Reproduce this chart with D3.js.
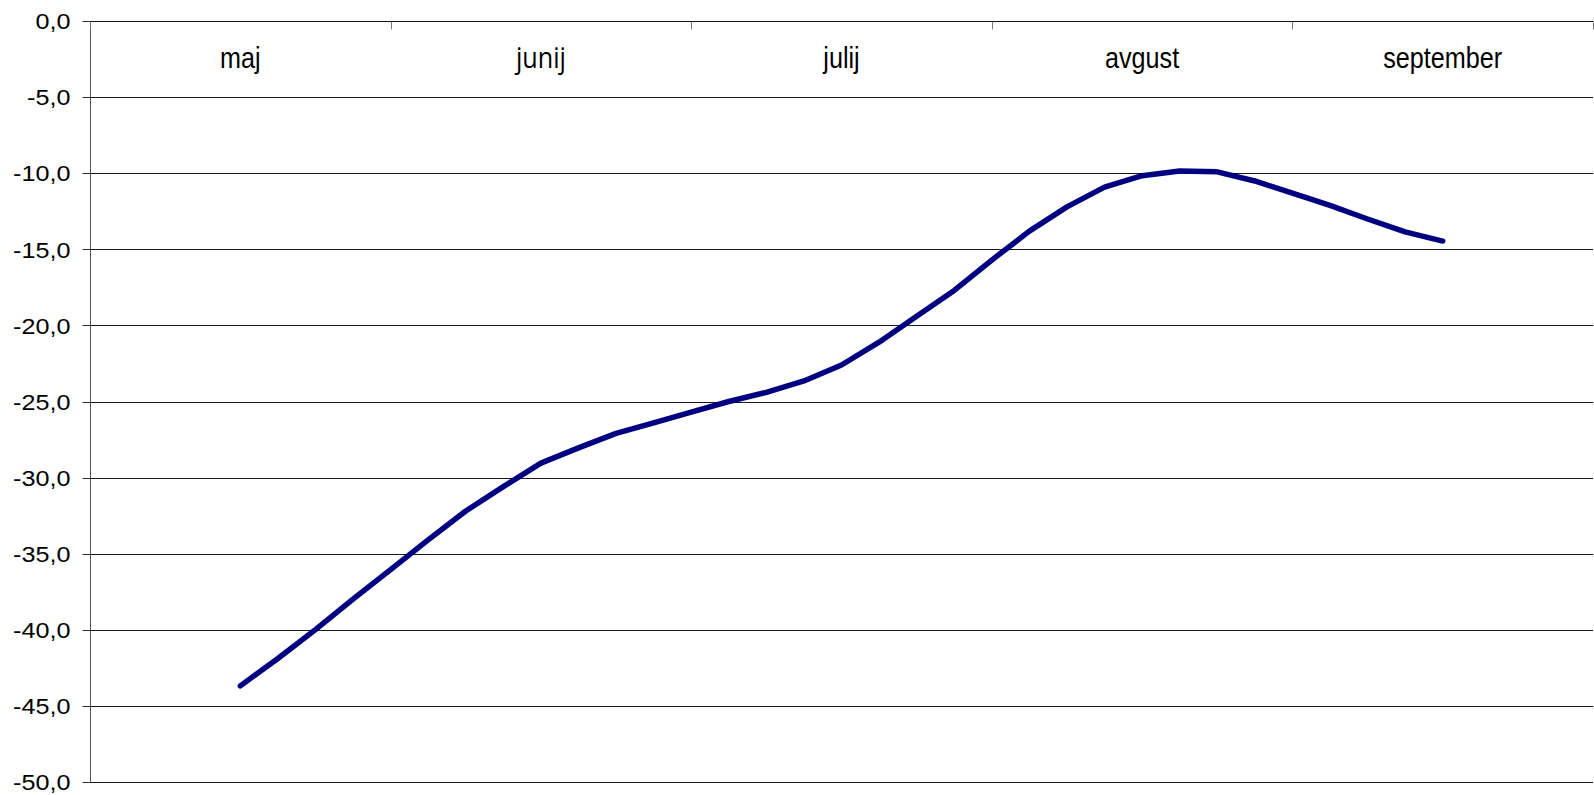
<!DOCTYPE html>
<html>
<head>
<meta charset="utf-8">
<script src="https://cdn.jsdelivr.net/npm/d3@7"></script>
<style>
  html, body { margin: 0; padding: 0; background: #fff; }
  svg { display: block; }
  text { font-family: "Liberation Sans", Arial, sans-serif; fill: #000; }
</style>
</head>
<body>
<svg id="chart" width="1594" height="795"></svg>
<script>
// ---- data ----
const months = ["maj", "junij", "julij", "avgust", "september"];
const pointsPerMonth = 8;
const firstIndex = 4; // first value sits at the middle of "maj"
const values = [-43.7, -41.9, -40.0, -38.0, -36.05, -34.1, -32.2, -30.6, -29.05, -28.05,
                -27.1, -26.4, -25.7, -25.0, -24.4, -23.65, -22.6, -21.1, -19.4, -17.7,
                -15.7, -13.8, -12.2, -10.9, -10.15, -9.85, -9.9, -10.5, -11.3, -12.1,
                -13.0, -13.85, -14.45];
const yTicks = [0, -5, -10, -15, -20, -25, -30, -35, -40, -45, -50];

// ---- layout ----
const mLeft = 90, mRight = 1593, mTop = 21.3, mBottom = 781.7;
const svg = d3.select("#chart");

const x = d3.scaleLinear().domain([0, months.length * pointsPerMonth]).range([mLeft, mRight]);
const y = d3.scaleLinear().domain([-50, 0]).range([mBottom, mTop]);

const loc = d3.formatLocale({decimal: ",", thousands: ".", grouping: [3], currency: ["", ""], minus: "-"});
const fmt = loc.format(".1f");

// gridlines
svg.append("g").selectAll("line").data(yTicks).join("line")
  .attr("x1", mLeft).attr("x2", mRight)
  .attr("y1", d => Math.round(y(d)) + 0.5).attr("y2", d => Math.round(y(d)) + 0.5)
  .attr("stroke", "#1a1a1a").attr("stroke-width", 1);

// left axis
const yAxis = d3.axisLeft(y).tickValues(yTicks).tickSize(8).tickFormat("");
const gy = svg.append("g").attr("transform", `translate(${mLeft + 0.5},0)`).call(yAxis);
gy.select(".domain").attr("stroke", "#555").attr("d", `M0,${Math.round(mTop)}V${Math.round(mBottom) + 1}`);
gy.selectAll(".tick").attr("transform", d => `translate(0,${Math.round(y(d)) + 0.5})`);
gy.selectAll(".tick line").attr("stroke", "#333");

// y labels (stretched horizontally like the original)
svg.append("g").selectAll("text").data(yTicks).join("text")
  .attr("transform", d => `translate(70.5,${y(d)}) scale(1.12,1)`)
  .attr("text-anchor", "end")
  .attr("dy", "0.36em")
  .style("font-size", "22.5px")
  .text(d => fmt(d));

// top category axis with boundary ticks
const monthBounds = d3.range(months.length + 1).map(i => i * pointsPerMonth);
const xAxis = d3.axisBottom(x).tickValues(monthBounds).tickSize(8).tickFormat("");
const gx = svg.append("g").attr("transform", `translate(0,${Math.round(mTop) + 0.5})`).call(xAxis);
gx.select(".domain").attr("stroke", "#111").attr("d", `M${mLeft},0H${mRight}`);
gx.selectAll(".tick").attr("transform", d => `translate(${Math.round(x(d)) + 0.5},0)`);
gx.selectAll(".tick line").attr("stroke", "#777");

// month labels
svg.append("g").selectAll("text").data(months).join("text")
  .attr("transform", (d, i) => `translate(${x(i * pointsPerMonth + pointsPerMonth / 2)},67.7) scale(0.84,1)`)
  .attr("text-anchor", "middle")
  .style("font-size", "30px")
  .style("font-family", d => d === "junij" ? "'Open Sans', sans-serif" : null)
  .text(d => d);

// line
const line = d3.line()
  .x((d, i) => x(firstIndex + i))
  .y(d => y(d));

svg.append("path")
  .datum(values)
  .attr("d", line)
  .attr("fill", "none")
  .attr("stroke", "#000080")
  .attr("stroke-width", 5.5)
  .attr("stroke-linejoin", "round")
  .attr("stroke-linecap", "round");
</script>
</body>
</html>
